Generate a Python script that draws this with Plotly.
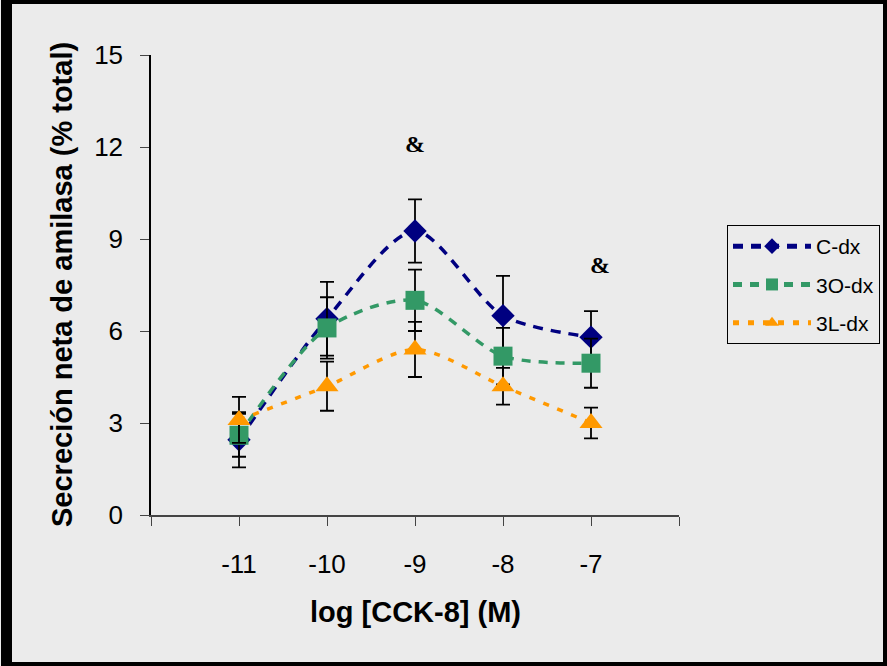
import plotly.graph_objects as go

x_vals = [-11, -10, -9, -8, -7]
x_tick_vals = [-12, -11, -10, -9, -8, -7, -6]
x_tick_text = ["", "-11", "-10", "-9", "-8", "-7", ""]

c_dx = [2.45, 6.4, 9.26, 6.5, 5.8]
c_dx_err = [0.9, 1.2, 1.03, 1.3, 0.85]
o3_dx = [2.6, 6.1, 7.0, 5.18, 4.95]
o3_dx_err = [0.7, 1.0, 1.0, 0.92, 0.8]
l3_dx = [3.1, 4.2, 5.4, 4.2, 3.0]
l3_dx_err = [0.75, 0.8, 0.9, 0.6, 0.5]

names = ["C-dx", "3O-dx", "3L-dx"]
colors = ["#000080", "#339966", "#FF9900"]
symbols = ["diamond", "square", "triangle-up"]
sizes = [18, 19, 20]
dashes = ["10px,8px", "9px,8px", "6px,9px"]

amp_x = [-9, -6.9]
amp_y = [12.1, 8.15]

fig = go.Figure()
for name, y, err, col, sym, sz, dash in zip(
    names, [c_dx, o3_dx, l3_dx], [c_dx_err, o3_dx_err, l3_dx_err],
    colors, symbols, sizes, dashes):
    fig.add_trace(go.Scatter(
        x=x_vals, y=y, name=name, legendgroup=name, mode="lines+markers",
        line=dict(color=col, width=3.5, dash=dash, shape="spline", smoothing=0.8),
        marker=dict(symbol=sym, size=sz, color=col),
        error_y=dict(type="data", array=err, visible=True, color="black",
                     thickness=1.8, width=7),
    ))

for ax, ay in zip(amp_x, amp_y):
    fig.add_annotation(x=ax, y=ay, text="<b>&</b>", showarrow=False,
                       font=dict(family="Liberation Serif, serif", size=24, color="black"))

fig.add_annotation(xref="paper", yref="paper", x=0, y=0.5, xshift=-89,
                   text="<b>Secreción neta de amilasa (% total)</b>", textangle=-90,
                   showarrow=False, xanchor="center", yanchor="middle",
                   font=dict(family="Liberation Sans, Arial", size=29, color="black"))
fig.add_annotation(xref="x", yref="paper", x=-9, y=0, yshift=-97,
                   text="<b>log [CCK-8] (M)</b>", showarrow=False,
                   xanchor="center", yanchor="middle",
                   font=dict(family="Liberation Sans, Arial", size=29, color="black"))

# outer frame
fig.add_shape(type="rect", xref="paper", yref="paper",
              x0=(6 - 151) / 528, x1=(885 - 151) / 528,
              y0=(515 - 664) / 460, y1=(515 - 2) / 460,
              line=dict(color="black", width=4))
fig.add_shape(type="rect", xref="paper", yref="paper",
              x0=(1 - 151) / 528, x1=(12 - 151) / 528,
              y0=(515 - 666) / 460, y1=(515 - 0) / 460,
              line=dict(width=0), fillcolor="black")

fig.update_layout(
    width=887, height=666,
    margin=dict(l=151, r=208, t=55, b=151, autoexpand=False),
    paper_bgcolor="#ebebeb", plot_bgcolor="rgba(0,0,0,0)",
    font=dict(family="Liberation Sans, Arial", size=26, color="black"),
    showlegend=True,
    legend=dict(x=(727 - 151) / 528, y=(515 - 225) / 460, xanchor="left", yanchor="top",
                bordercolor="black", borderwidth=1, bgcolor="rgba(0,0,0,0)",
                font=dict(size=21), itemsizing="constant", itemwidth=78,
                tracegroupgap=8),
    xaxis=dict(range=[-12, -6], tickvals=x_tick_vals, ticktext=x_tick_text,
               showgrid=False, zeroline=False, showline=True, linecolor="#444",
               linewidth=1.5, ticks="outside", ticklen=9, tickcolor="#444",
               ticklabelstandoff=16, fixedrange=True),
    yaxis=dict(range=[0, 15], tickvals=[0, 3, 6, 9, 12, 15], showgrid=False,
               zeroline=False, showline=True, linecolor="black", linewidth=1.5,
               ticks="outside", ticklen=9, tickcolor="#444", ticklabelstandoff=12,
               fixedrange=True),
)

fig.write_html("out.html")
